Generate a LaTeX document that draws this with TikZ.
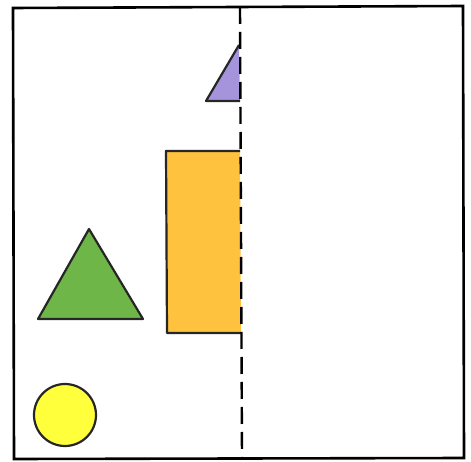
\documentclass[tikz,border=0pt]{standalone}
\definecolor{violetfill}{HTML}{A594DC}
\definecolor{orangefill}{HTML}{FFC23E}
\definecolor{greenfill}{HTML}{6DB647}
\definecolor{yellowfill}{HTML}{FFFF3C}
\tikzset{
  outline/.style={draw=black, line width=2.6pt, line join=miter},
  shapefill/.style={line width=2.2pt, draw=black!85, line join=round},
}
\begin{document}
\begin{tikzpicture}[x=1pt,y=-1pt]
\useasboundingbox (0,0) rectangle (471,462);
% frame
\draw[outline] (13,8) -- (463,6) -- (464,458) -- (14,459) -- cycle;
% purple half-triangle
\fill[violetfill] (239,45) -- (206,101) -- (240,101) -- cycle;
\draw[shapefill] (240,101) -- (206,101) -- (239,45);
% orange half-rectangle
\fill[orangefill] (240,151) -- (166,151) -- (167,333) -- (241,333) -- cycle;
\draw[shapefill] (240,151) -- (166,151) -- (167,333) -- (241,333);
% green triangle
\draw[shapefill, fill=greenfill] (89,229) -- (143,319) -- (38,319) -- cycle;
% yellow circle
\draw[shapefill, fill=yellowfill] (65,415) circle (31);
% dashed axis
\draw[line width=2.4pt, dash pattern=on 17pt off 8pt] (240,7) -- (242,458);
\end{tikzpicture}
\end{document}
